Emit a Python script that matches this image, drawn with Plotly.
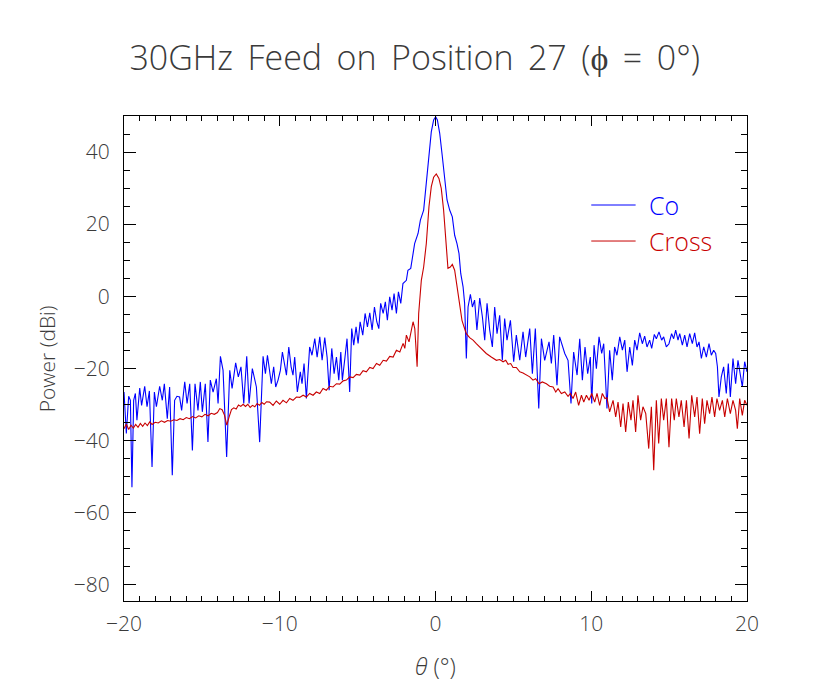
import plotly.graph_objects as go

# Co-polar cut (blue)
co_theta = [-20.0, -19.85, -19.70, -19.59, -19.49, -19.38, -19.27, -19.17, -18.99, -18.87,
            -18.67, -18.52, -18.37, -18.20, -18.05, -17.92, -17.71, -17.54, -17.41, -17.22,
            -17.07, -16.90, -16.75, -16.60, -16.43, -16.30, -16.10, -15.95, -15.78, -15.61,
            -15.44, -15.25, -15.10, -14.97, -14.78, -14.61, -14.46, -14.28, -14.07, -13.96,
            -13.81, -13.64, -13.41, -13.21, -13.06, -12.83, -12.66, -12.49, -12.31, -12.12,
            -11.97, -11.76, -11.50, -11.29, -11.07, -10.92, -10.79,
            -10.65, -10.54, -10.39, -10.26, -10.11, -9.96, -9.83, -9.68, -9.57, -9.42,
            -9.27, -9.15, -9.04, -8.87, -8.68, -8.57, -8.44, -8.29, -8.08, -7.93,
            -7.75, -7.60, -7.43, -7.28, -7.11, -6.96, -6.83, -6.66, -6.51, -6.36,
            -6.21, -6.08, -5.98, -5.81, -5.68, -5.51, -5.38, -5.25, -5.10, -4.97,
            -4.84, -4.67, -4.52, -4.37, -4.22, -4.07, -3.92, -3.77, -3.64, -3.52,
            -3.36, -3.22, -3.09, -2.94, -2.79, -2.66, -2.51, -2.38, -2.23,
            -2.09, -1.87, -1.77, -1.59, -1.44, -1.34, -1.12, -0.97, -0.76, -0.59,
            -0.42, -0.27, -0.12, 0.01, 0.12, 0.27, 0.44, 0.59, 0.74, 0.91,
            1.08, 1.23, 1.38, 1.51, 1.62, 1.77, 1.87, 1.98, 2.09, 2.24,
            2.37, 2.51, 2.66, 2.84, 3.01, 3.16, 3.31, 3.48, 3.65, 3.80, 3.95,
            4.12, 4.29, 4.44, 4.59, 4.81, 5.02, 5.19, 5.41, 5.62, 5.79,
            6.05, 6.22, 6.41, 6.63, 6.80, 7.01, 7.29, 7.44, 7.59, 7.80,
            7.97, 8.30, 8.51, 8.70, 8.87, 9.09, 9.26, 9.43, 9.60, 9.77,
            9.94, 10.03, 10.18, 10.33, 10.50, 10.67, 10.80, 11.01, 11.18, 11.35,
            11.50, 11.65, 11.83, 12.00, 12.15, 12.30, 12.47, 12.64, 12.79, 12.94,
            13.11, 13.28, 13.43, 13.58, 13.75, 13.88, 14.05, 14.18, 14.35, 14.52,
            14.65, 14.82, 14.99, 15.16, 15.29, 15.42, 15.57, 15.68, 15.85, 16.00,
            16.15, 16.32, 16.49, 16.64, 16.79, 16.92, 17.07, 17.22, 17.39, 17.56,
            17.71, 17.86, 17.99, 18.10, 18.20, 18.35, 18.50, 18.67, 18.80, 18.93,
            19.10, 19.27, 19.42, 19.57, 19.70, 19.85, 20.0]
co_db = [-26.6, -38.1, -27.8, -28.9, -53.0, -28.9, -27.0, -34.4, -25.5, -30.3,
         -25.0, -30.7, -26.3, -47.4, -26.6, -30.7, -25.0, -28.9, -24.3, -34.0,
         -25.2, -49.7, -28.9, -27.8, -28.0, -31.7, -23.8, -29.8, -24.3, -42.8,
         -24.3, -31.7, -23.8, -32.1, -24.3, -40.5, -23.3, -26.6, -22.9, -29.8,
         -16.7, -20.6, -44.6, -20.6, -25.6, -18.5, -22.4, -19.6, -29.8, -16.7,
         -29.8, -20.1, -25.2, -40.5, -16.7, -21.5, -16.4,
         -20.6, -24.3, -19.6, -25.2, -23.3, -20.6, -15.5, -18.7, -21.9, -14.1,
         -19.6, -21.9, -16.9, -26.6, -21.0, -24.3, -18.7, -28.4, -14.1, -16.4,
         -11.8, -16.9, -11.3, -17.8, -11.5, -16.9, -26.1, -14.5, -21.5, -16.9,
         -23.3, -15.5, -23.3, -16.9, -11.8, -26.6, -9.0, -13.6, -8.5, -13.1,
         -7.1, -10.8, -4.8, -8.5, -4.6, -9.4, -3.0, -7.1, -9.0, -2.0,
         -4.8, -1.6, -6.7, -0.2, -3.9, 0.7, -4.8, 1.2, -2.0,
         3.5, 4.4, 7.2, 7.7, 11.8, 14.6, 17.4, 21.1, 23.9, 31.3,
         40.5, 45.6, 48.9, 49.8, 48.9, 45.2, 38.7, 32.2, 26.7, 23.9,
         22.0, 16.9, 14.6, 11.8, 6.3, 2.6, -2.0, -17.3, -3.0, 0.5,
         -3.0, -1.1, -9.4, -0.5, -5.7, -12.2, -2.0, -9.4, -14.1, -3.0, -10.4,
         -5.3, -17.8, -6.2, -12.2, -6.7, -18.2, -10.8, -17.8, -9.9, -16.9,
         -9.0, -21.5, -9.0, -31.2, -11.8, -17.8, -12.7, -18.7, -10.8, -24.7,
         -11.3, -15.9, -17.8, -29.8, -15.5, -21.9, -11.8, -23.3, -14.1, -21.5,
         -16.9, -29.8, -13.6, -20.1, -11.3, -15.9, -13.2, -31.2, -15.0, -23.3,
         -14.1, -16.4, -11.3, -15.0, -12.2, -21.0, -14.1, -19.2, -12.2, -15.0,
         -10.2, -13.2, -11.1, -14.1, -12.2, -14.5, -10.6, -11.8, -9.9, -12.2,
         -11.3, -14.1, -13.2, -10.4, -11.8, -9.4, -12.2, -10.4, -13.6, -10.8,
         -14.1, -10.4, -13.2, -10.2, -14.1, -12.7, -17.3, -14.1, -16.9, -13.2,
         -16.4, -15.0, -15.9, -19.6, -28.0, -22.4, -19.6, -27.0, -18.7, -28.0,
         -17.3, -24.3, -17.8, -22.4, -25.2, -18.2, -21.0]

# Cross-polar cut (red)
cross_theta = [-20.0, -19.85, -19.70, -19.55, -19.40, -19.25, -19.10, -18.95, -18.80, -18.65,
               -18.50, -18.35, -18.20, -18.00, -17.80, -17.60, -17.40, -17.20, -17.00, -16.80,
               -16.60, -16.40, -16.20, -16.00, -15.80, -15.60, -15.40, -15.20, -15.00, -14.80,
               -14.60, -14.40, -14.20, -14.00, -13.85, -13.70, -13.55, -13.40, -13.25, -13.10,
               -12.95, -12.80, -12.65, -12.50, -12.35, -12.20, -12.05, -11.90, -11.75, -11.60,
               -11.45, -11.30, -11.15, -11.00, -10.85,
               -10.65, -10.43, -10.22, -10.00, -9.79, -9.57, -9.36, -9.15, -8.93, -8.72,
               -8.50, -8.29, -8.08, -7.86, -7.65, -7.43, -7.22, -7.01, -6.79, -6.58,
               -6.36, -6.15, -5.93, -5.72, -5.51, -5.29, -5.08, -4.86, -4.65, -4.44,
               -4.22, -4.01, -3.79, -3.58, -3.36, -3.15, -2.94, -2.72, -2.51, -2.29,
               -2.08, -1.97, -1.87, -1.70, -1.55, -1.44, -1.33, -1.18,
               -1.08, -0.91, -0.76, -0.59, -0.42, -0.27, -0.12, 0.05, 0.22, 0.37,
               0.52, 0.65, 0.80, 0.95, 1.08, 1.23, 1.38, 1.55, 1.70, 1.83,
               1.98, 2.19, 2.41, 2.62, 2.94, 3.26, 3.58, 3.91,
               4.12, 4.34, 4.51, 4.66, 4.83, 4.98, 5.19, 5.41, 5.62, 5.83,
               6.05, 6.26, 6.43, 6.65, 6.86, 7.12, 7.33, 7.55, 7.72, 7.87,
               8.08, 8.30, 8.51, 8.66, 8.83, 9.00, 9.19, 9.37, 9.52, 9.69,
               9.86, 10.03, 10.22, 10.37, 10.54, 10.71, 10.88, 11.01, 11.18, 11.40,
               11.57, 11.72, 11.89, 12.04, 12.21, 12.38, 12.55, 12.68, 12.85, 13.00,
               13.17, 13.32, 13.50, 13.69, 13.86, 14.01, 14.18, 14.33, 14.50, 14.65,
               14.82, 14.99, 15.16, 15.33, 15.46, 15.63, 15.78, 15.96, 16.11, 16.28,
               16.45, 16.64, 16.79, 16.96, 17.13, 17.28, 17.43, 17.60, 17.75, 17.92,
               18.07, 18.24, 18.42, 18.57, 18.74, 18.93, 19.10, 19.27, 19.38, 19.53,
               19.70, 19.85, 20.0]
cross_db = [-36.8, -35.5, -37.0, -35.8, -36.6, -35.6, -36.4, -35.3, -36.1, -35.2,
            -35.9, -34.9, -35.6, -35.0, -35.2, -34.6, -35.0, -34.5, -34.7, -34.3,
            -34.5, -34.0, -34.3, -33.7, -34.0, -33.4, -33.8, -33.2, -33.5, -32.8,
            -33.2, -32.5, -32.8, -32.3, -31.2, -31.5, -33.0, -35.8, -33.5, -31.5,
            -31.0, -31.3, -30.2, -30.6, -30.0, -30.6, -30.0, -30.9, -30.3, -30.7,
            -29.8, -30.3, -29.5, -30.0, -29.3,
            -29.4, -30.3, -29.1, -30.0, -28.9, -29.6, -28.4, -28.9, -28.0, -28.1,
            -27.5, -28.0, -27.0, -27.5, -26.6, -27.0, -25.6, -26.1, -25.0, -25.2,
            -24.3, -24.4, -23.5, -23.3, -22.4, -22.6, -21.7, -21.9, -20.7, -21.0,
            -19.8, -20.1, -18.7, -19.2, -17.8, -18.0, -16.7, -16.9, -15.0, -15.5,
            -13.1, -14.5, -10.8, -12.7, -9.9, -7.1, -9.0, -19.6,
            -4.8, 4.4, 8.1, 14.6, 24.8, 30.4, 33.0, 33.9, 32.7, 29.9,
            23.9, 17.4, 7.7, 8.1, 8.8, 7.2, 2.6, -2.0, -6.7, -8.5,
            -10.4, -11.5, -12.2, -13.2, -14.5, -15.9, -16.9, -17.8,
            -17.6, -18.2, -17.8, -18.9, -18.7, -19.8, -19.8, -21.0, -21.3, -21.9,
            -22.4, -23.3, -22.9, -24.3, -23.8, -24.3, -25.0, -25.2, -26.6, -25.7,
            -27.0, -26.6, -27.8, -27.0, -28.4, -26.6, -30.3, -27.5, -29.4, -27.5,
            -28.9, -27.0, -29.4, -27.0, -30.3, -27.0, -28.4, -28.2, -32.1, -28.9,
            -33.5, -29.4, -36.3, -29.8, -37.7, -29.4, -34.4, -28.9, -37.7, -27.5,
            -34.4, -30.7, -32.6, -42.3, -30.7, -48.3, -28.9, -40.9, -28.4, -34.4,
            -28.4, -41.9, -28.4, -34.4, -28.4, -33.5, -28.9, -36.3, -28.9, -39.5,
            -27.5, -33.5, -28.0, -38.2, -28.4, -35.4, -28.9, -32.6, -28.0, -33.5,
            -28.4, -31.7, -28.9, -33.5, -28.4, -32.6, -28.9, -31.7, -36.8, -28.4,
            -33.1, -28.9, -30.3]

y_ticks = [-80, -60, -40, -20, 0, 20, 40]
x_ticks = [-20, -10, 0, 10, 20]

CO = "#0000ff"
CROSS = "#c80000"
INK = "#3a3a3a"
FONT = "Open Sans"
LIGHT = 300

fig = go.Figure()
fig.add_trace(go.Scatter(x=co_theta, y=co_db, mode="lines", name="Co",
                         line=dict(color=CO, width=1.1)))
fig.add_trace(go.Scatter(x=cross_theta, y=cross_db, mode="lines", name="Cross",
                         line=dict(color=CROSS, width=1.1)))

axis_common = dict(showline=True, linecolor="black", linewidth=1, mirror="ticks",
                   ticks="inside", tickcolor="black", showgrid=False, zeroline=False,
                   tickfont=dict(family=FONT, size=21, color=INK, weight=LIGHT))
fig.update_xaxes(range=[-20, 20], tickvals=x_ticks,
                 ticktext=[str(v).replace("-", "\u2212") for v in x_ticks],
                 ticklen=10, ticklabelstandoff=4,
                 minor=dict(dtick=1, tick0=0, ticklen=5, ticks="inside", tickcolor="black"),
                 **axis_common)
fig.update_yaxes(range=[-84.6, 50], tickvals=y_ticks,
                 ticktext=[str(v).replace("-", "\u2212") for v in y_ticks],
                 ticklen=12, ticklabelstandoff=9,
                 minor=dict(dtick=5, tick0=0, ticklen=6, ticks="inside", tickcolor="black"),
                 **axis_common)

# legend drawn by hand so each label keeps its own colour
for y_leg, txt, col in [(25.3, "Co", CO), (15.3, "Cross", CROSS)]:
    fig.add_shape(type="line", x0=10.0, x1=12.85, y0=y_leg, y1=y_leg,
                  line=dict(color=col, width=1))
    fig.add_annotation(x=13.6, y=y_leg, text=txt, showarrow=False, xanchor="left",
                       font=dict(family=FONT, size=25, color=col, weight=LIGHT))

fig.add_annotation(text="Power (dBi)", textangle=-90, xref="paper", yref="paper",
                   x=-0.124, y=0.5, xanchor="center", yanchor="middle", showarrow=False,
                   font=dict(family=FONT, size=21, color=INK, weight=LIGHT))
fig.add_annotation(text="<i>\u03b8</i> (\u00b0)", xref="paper", yref="paper",
                   x=0.5, y=-0.133, xanchor="center", yanchor="middle", showarrow=False,
                   font=dict(family=FONT, size=23, color=INK, weight=LIGHT))

# the page body adds 8px, so margins are 8px less on the top/left
fig.update_layout(
    width=830, height=691,
    margin=dict(l=116, r=91, t=108, b=98),
    paper_bgcolor="white", plot_bgcolor="white",
    showlegend=False,
    title=dict(text="30GHz Feed on Position 27 (\u03d5 = 0\u00b0)".replace(" ", " \u2009"),
               xref="container", x=0.49, xanchor="center", y=0.928, yanchor="middle",
               font=dict(family=FONT, size=34, color=INK, weight=LIGHT)),
)

fig.write_html("out.html")
